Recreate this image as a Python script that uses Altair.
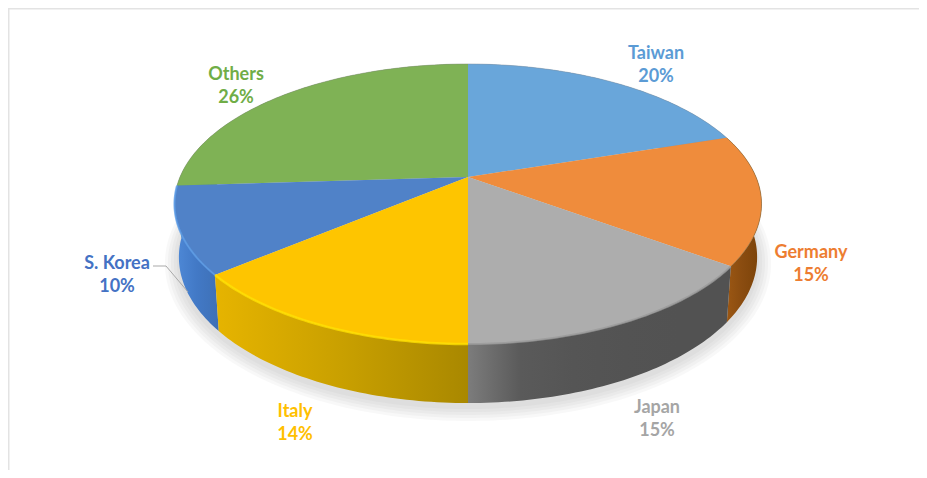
import math
import altair as alt
import pandas as pd

# ---- chart values ----
countries = ["Taiwan", "Germany", "Japan", "Italy", "S. Korea", "Others"]
shares = [20, 15, 15, 14, 10, 26]
top_colors = ["#69a6da", "#ef8c3c", "#adadad", "#fec500", "#5082c8", "#7fb255"]
label_colors = ["#5b9bd5", "#ed7d31", "#a5a5a5", "#ffc000", "#4472c4", "#70ad47"]
wall_stops = [
    ["#5b9bd5", "#5b9bd5"],
    ["#a05a14", "#8a4c10", "#7a4208"],
    ["#7c7c7c", "#5a5a5a", "#555555", "#535353", "#525252", "#525252"],
    ["#e6b400", "#c9a000", "#a98800"],
    ["#4f8ad8", "#4279c6", "#3e70b6"],
    ["#70ad47", "#70ad47"],
]
rim_colors = ["#7e8f9f", "#8a6a3c", "#9a9a9a", "#ffe000", "#5c9ce6", "#7d8c72"]
rim_widths = [1, 1, 2, 2.5, 2, 1]
rim_opacity = [0.5, 0.6, 0.8, 0.8, 0.8, 0.5]
draw_order = [0, 5, 1, 4, 3, 2]

# ---- layout of labels (page pixels) ----
label_x = [656, 811, 657, 295, 117, 236]
label_y = [53.5, 252.5, 407.5, 411.5, 263.5, 74.5]
line_gap = 23

W, H = 911, 462
OX, OY = 8, 8
AX, AY = 468, 177      # pie apex on the screen
A, B, K = 288, 134.8, 0.193   # perspective of the disc
DROP, SX, SY = 52, 0.985, 1.042  # lower rim relative to the upper rim


def rim(t, lower=False):
    r = math.radians(t)
    u, v = math.sin(r), -math.cos(r)
    d = 1 - K * v
    x, y = A * u / d, B * v / d
    if lower:
        return AX + x * SX, AY + DROP + y * SY
    return AX + x, AY + y


def arc(t0, t1, lower=False):
    n = max(2, int(abs(t1 - t0)) + 1)
    return [rim(t0 + (t1 - t0) * i / (n - 1), lower) for i in range(n)]


def frame(points):
    return pd.DataFrame(
        {"o": range(len(points)), "x": [p[0] for p in points], "y": [p[1] for p in points]}
    )


xs = alt.Scale(domain=[OX, OX + W], range=[0, W], zero=False, nice=False)
ys = alt.Scale(domain=[OY, OY + H], range=[0, H], zero=False, nice=False)


def enc(chart):
    return chart.encode(
        x=alt.X("x:Q", scale=xs, axis=None),
        y=alt.Y("y:Q", scale=ys, axis=None),
        order=alt.Order("o:Q"),
    )


def gradient(stops):
    n = len(stops)
    return alt.Gradient(
        gradient="linear",
        x1=0, x2=1, y1=0, y2=0,
        stops=[alt.GradientStop(offset=i / (n - 1), color=c) for i, c in enumerate(stops)],
    )


starts, cum = [], 0
for s in shares:
    starts.append(cum * 3.6)
    cum += s
ends = [a + s * 3.6 for a, s in zip(starts, shares)]

layers = []

# soft shadow under the disc
for grow in [14, 11, 8, 5, 2]:
    pts = [
        (AX + (x - AX) * (1 + grow / 290), AY + DROP + 4 + (y - AY - DROP) * (1 + grow / 175))
        for x, y in arc(0, 360, True)
    ]
    layers.append(enc(alt.Chart(frame(pts)).mark_line(
        fill="#808080", fillOpacity=0.055, strokeWidth=0, stroke="transparent")))

# outer walls
for i in draw_order:
    pts = arc(starts[i], ends[i]) + arc(ends[i], starts[i], True)
    layers.append(enc(alt.Chart(frame(pts)).mark_line(
        fill=gradient(wall_stops[i]), strokeWidth=0, stroke="transparent")))

# top faces
for i in draw_order:
    pts = [(AX, AY)] + arc(starts[i], ends[i]) + [(AX, AY)]
    layers.append(enc(alt.Chart(frame(pts)).mark_line(
        fill=top_colors[i], strokeWidth=0, stroke="transparent")))

# rim highlights
for i in draw_order:
    layers.append(enc(alt.Chart(frame(arc(starts[i], ends[i]))).mark_line(
        stroke=rim_colors[i], strokeWidth=rim_widths[i], opacity=rim_opacity[i])))

# leader line of S. Korea
leader = frame([(153, 266), (166, 266), (188, 292)])
layers.append(enc(alt.Chart(leader).mark_line(stroke="#a9a9a9", strokeWidth=1)))

# outer frame of the picture
border_h = pd.DataFrame({"x": [OX], "x2": [OX + W], "y": [OY + 0.5]})
border_v = pd.DataFrame({"x": [OX + 0.5], "y": [OY], "y2": [OY + H]})
layers.append(alt.Chart(border_h).mark_rule(color="#e3e3e3", strokeWidth=2).encode(
    x=alt.X("x:Q", scale=xs, axis=None), x2="x2:Q", y=alt.Y("y:Q", scale=ys, axis=None)))
layers.append(alt.Chart(border_v).mark_rule(color="#e3e3e3", strokeWidth=2).encode(
    x=alt.X("x:Q", scale=xs, axis=None), y=alt.Y("y:Q", scale=ys, axis=None), y2="y2:Q"))

# labels
labels = pd.DataFrame({
    "text": countries + [f"{s}%" for s in shares],
    "x": label_x * 2,
    "y": label_y + [y + line_gap for y in label_y],
    "c": label_colors * 2,
})
layers.append(alt.Chart(labels).mark_text(
    font="Lato", fontWeight="bold", fontSize=18, align="center", baseline="middle"
).encode(
    x=alt.X("x:Q", scale=xs, axis=None),
    y=alt.Y("y:Q", scale=ys, axis=None),
    text="text:N",
    color=alt.Color("c:N", scale=None),
))

chart = alt.layer(*layers).properties(
    width=W, height=H, padding=0,
    autosize=alt.AutoSizeParams(type="none"),
    background="white",
).configure_view(strokeWidth=0)

chart.save("out.html", embed_options={"renderer": "svg", "actions": False})
